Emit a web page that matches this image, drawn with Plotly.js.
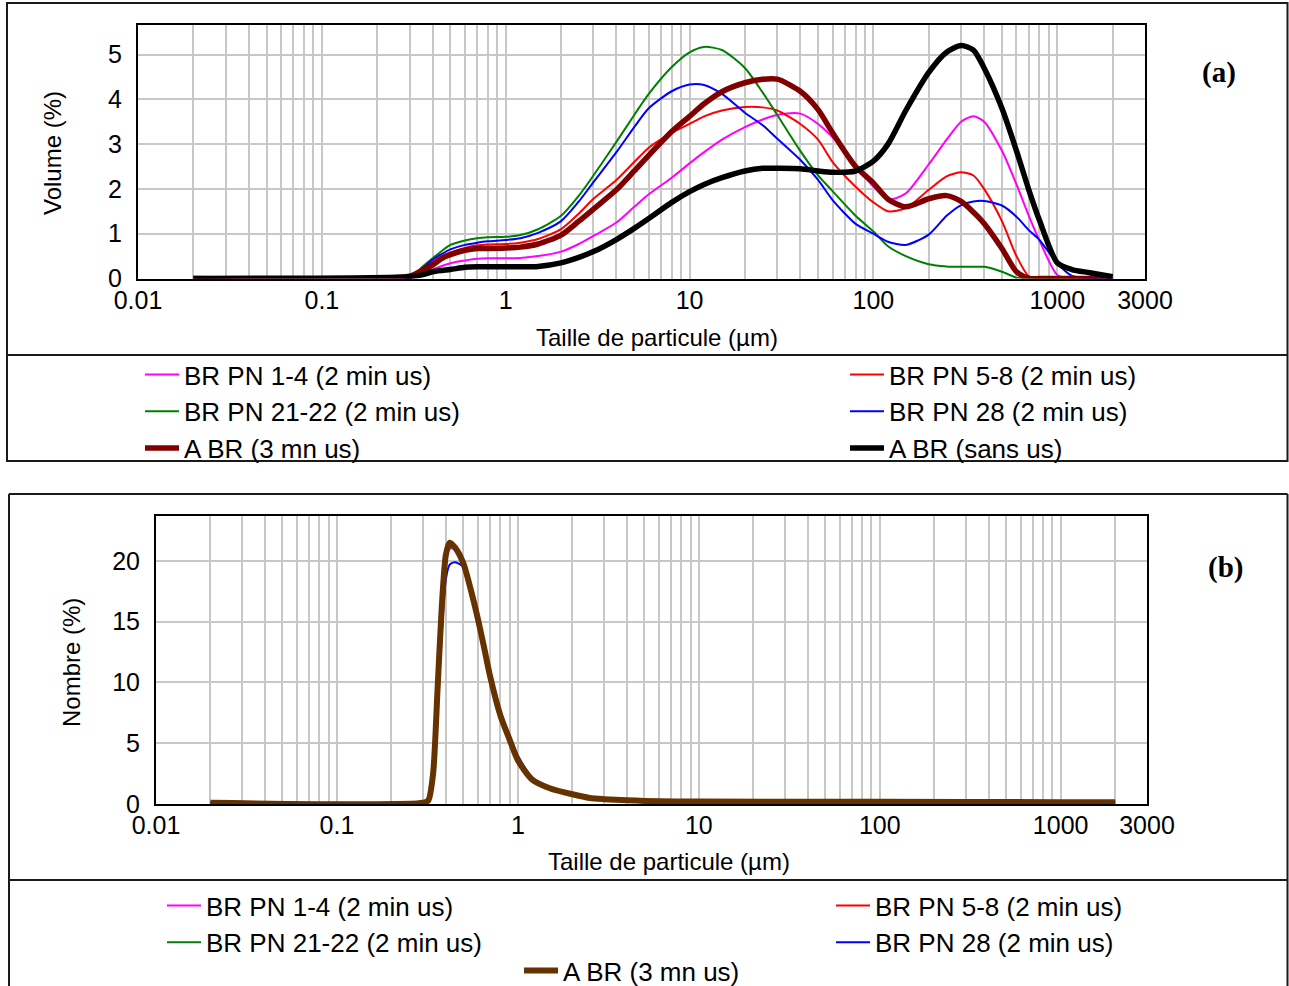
<!DOCTYPE html>
<html>
<head>
<meta charset="utf-8">
<script src="https://cdn.plot.ly/plotly-3.0.1.min.js"></script>
<style>
html,body{margin:0;padding:0;background:#fff;width:1289px;height:986px;overflow:hidden;}
#chart{position:absolute;left:0;top:0;width:1289px;height:986px;overflow:hidden;}
</style>
</head>
<body>
<div id="chart"></div>
<script>
// ---------- Panel (a): volume distribution ----------
const sizesA = [0.02, 0.3, 0.35, 0.4, 0.45, 0.5, 0.6, 0.7, 0.8, 1, 1.2, 1.5, 2, 2.5, 3, 4, 5, 6, 8, 10,
  12, 15, 20, 25, 30, 40, 50, 60, 80, 100, 120, 150, 200, 250, 300, 350, 400, 500, 600, 700,
  800, 1000, 1200, 1500, 2000];
const volPN1_4 = [0, 0, 0.08, 0.2, 0.28, 0.34, 0.4, 0.44, 0.45, 0.45, 0.46, 0.5, 0.6, 0.77, 0.95, 1.25, 1.6, 1.88, 2.25, 2.57,
  2.82, 3.1, 3.38, 3.55, 3.65, 3.68, 3.45, 3.15, 2.55, 2.05, 1.76, 1.9, 2.55, 3.1, 3.5, 3.62, 3.5, 2.85, 2.1, 1.4,
  0.85, 0.08, 0, 0, 0];
const volPN5_8 = [0, 0, 0.2, 0.37, 0.5, 0.58, 0.68, 0.74, 0.76, 0.77, 0.8, 0.88, 1.1, 1.45, 1.78, 2.2, 2.6, 2.92, 3.25, 3.45,
  3.62, 3.75, 3.83, 3.82, 3.75, 3.45, 3.1, 2.6, 2.05, 1.7, 1.5, 1.57, 1.98, 2.28, 2.37, 2.3, 2.0, 1.28, 0.5, 0.05,
  0, 0, 0, 0, 0];
const volPN21_22 = [0, 0, 0.25, 0.45, 0.62, 0.75, 0.85, 0.9, 0.92, 0.93, 0.97, 1.1, 1.4, 1.85, 2.3, 3.05, 3.65, 4.12, 4.72, 5.05,
  5.17, 5.1, 4.7, 4.15, 3.65, 2.85, 2.3, 1.95, 1.4, 1.05, 0.72, 0.5, 0.32, 0.27, 0.26, 0.26, 0.26, 0.15, 0.02, 0,
  0, 0, 0, 0, 0];
const volPN28 = [0, 0, 0.22, 0.42, 0.55, 0.65, 0.75, 0.8, 0.83, 0.86, 0.9, 1.02, 1.28, 1.72, 2.15, 2.82, 3.38, 3.8, 4.18, 4.33,
  4.32, 4.12, 3.7, 3.42, 3.12, 2.65, 2.2, 1.75, 1.22, 1.0, 0.82, 0.75, 0.98, 1.4, 1.64, 1.72, 1.73, 1.63, 1.38, 1.08,
  0.86, 0.34, 0.06, 0.01, 0];
const volABR3mn = [0, 0.05, 0.18, 0.3, 0.45, 0.53, 0.63, 0.67, 0.67, 0.68, 0.7, 0.77, 0.97, 1.28, 1.55, 1.98, 2.4, 2.75, 3.28, 3.62,
  3.9, 4.17, 4.37, 4.45, 4.45, 4.18, 3.77, 3.25, 2.5, 2.13, 1.77, 1.6, 1.78, 1.85, 1.72, 1.48, 1.23, 0.67, 0.15, 0,
  0, 0, 0, 0, 0];
const volABRsans = [0, 0.04, 0.08, 0.15, 0.18, 0.2, 0.25, 0.26, 0.26, 0.26, 0.26, 0.27, 0.35, 0.47, 0.6, 0.87, 1.12, 1.34, 1.7, 1.94,
  2.1, 2.25, 2.4, 2.46, 2.46, 2.45, 2.4, 2.37, 2.4, 2.62, 3.0, 3.75, 4.6, 5.05, 5.2, 5.1, 4.7, 3.8, 2.85, 1.98,
  1.3, 0.35, 0.2, 0.13, 0.04];

// ---------- Panel (b): number distribution ----------
const sizesB = [0.02, 0.3, 0.32, 0.34, 0.36, 0.38, 0.4, 0.42, 0.45, 0.5, 0.55, 0.6, 0.65, 0.7, 0.8, 0.9, 1, 1.2, 1.5, 2,
  2.5, 3, 4, 5, 10, 100, 1000, 2000];
const numPN1_4 = [0.1, 0.1, 0.2, 2.0, 8.5, 15.5, 20.0, 21.0, 21.0, 19.9, 17.9, 15.5, 13.1, 10.8, 7.5, 5.4, 3.8, 2.1, 1.35, 0.82,
  0.55, 0.4, 0.3, 0.25, 0.2, 0.18, 0.15, 0.15];
const numPN5_8 = [0.1, 0.1, 0.25, 2.2, 9.0, 15.8, 20.3, 21.2, 21.0, 19.8, 17.7, 15.3, 12.9, 10.6, 7.4, 5.3, 3.7, 2.05, 1.3, 0.8,
  0.52, 0.4, 0.3, 0.25, 0.2, 0.18, 0.15, 0.15];
const numPN21_22 = [0.1, 0.1, 0.3, 2.5, 9.5, 16.2, 20.6, 21.4, 21.0, 19.7, 17.6, 15.2, 12.8, 10.5, 7.3, 5.2, 3.6, 2.0, 1.25, 0.78,
  0.5, 0.38, 0.28, 0.22, 0.2, 0.18, 0.15, 0.15];
const numPN28 = [0.1, 0.1, 0.2, 1.8, 7.5, 14.0, 18.5, 19.7, 19.9, 19.5, 17.8, 15.5, 13.2, 11.0, 7.7, 5.6, 4.0, 2.2, 1.4, 0.9,
  0.6, 0.42, 0.3, 0.25, 0.2, 0.18, 0.15, 0.15];
const numABR3mn = [0.1, 0.1, 0.3, 2.5, 9.5, 16.3, 20.5, 21.5, 21.1, 19.8, 17.6, 15.3, 12.9, 10.6, 7.3, 5.3, 3.6, 2.0, 1.3, 0.8,
  0.5, 0.4, 0.3, 0.25, 0.2, 0.18, 0.15, 0.15];

// ---------- labels ----------
const xTickVals = [0.01, 0.1, 1, 10, 100, 1000, 3000];
const xTickText = ['0.01', '0.1', '1', '10', '100', '1000', '3000'];
const nameList = ['BR PN 1-4 (2 min us)', 'BR PN 5-8 (2 min us)', 'BR PN 21-22 (2 min us)',
  'BR PN 28 (2 min us)', 'A BR (3 mn us)', 'A BR (sans us)'];

// ---------- helpers ----------
const W = 1289, H = 986;
const fx = p => p / W;
const fy = p => 1 - p / H;
const FONT = 'Liberation Sans, Arial, sans-serif';
const GRID = '#c8c8c8';

const minorVals = [];
[0.01, 0.1, 1, 10, 100, 1000].forEach(d => {
  for (let k = 2; k <= 9; k++) { const v = k * d; if (v < 3000) minorVals.push(+v.toPrecision(3)); }
});

function line(x, y, name, color, width, xa, ya, leg) {
  return {
    type: 'scatter', mode: 'lines', x: x, y: y, name: name,
    xaxis: xa, yaxis: ya, legend: leg,
    line: { color: color, width: width, shape: 'spline', smoothing: 0.7 },
    hoverinfo: 'x+y+name'
  };
}

const traces = [
  line(sizesA, volPN1_4, nameList[0], '#ff00ff', 2, 'x', 'y', 'legend'),
  line(sizesA, volPN5_8, nameList[1], '#ff0000', 2, 'x', 'y', 'legend2'),
  line(sizesA, volPN21_22, nameList[2], '#008000', 2, 'x', 'y', 'legend'),
  line(sizesA, volPN28, nameList[3], '#0000ff', 2, 'x', 'y', 'legend2'),
  line(sizesA, volABR3mn, nameList[4], '#800000', 5.5, 'x', 'y', 'legend'),
  line(sizesA, volABRsans, nameList[5], '#000000', 5.5, 'x', 'y', 'legend2'),

  line(sizesB, numPN1_4, nameList[0], '#ff00ff', 2, 'x2', 'y2', 'legend3'),
  line(sizesB, numPN5_8, nameList[1], '#ff0000', 2, 'x2', 'y2', 'legend4'),
  line(sizesB, numPN21_22, nameList[2], '#008000', 2, 'x2', 'y2', 'legend3'),
  line(sizesB, numPN28, nameList[3], '#0000ff', 2, 'x2', 'y2', 'legend4'),
  line(sizesB, numABR3mn, nameList[4], '#663300', 6, 'x2', 'y2', 'legend5')
];

function xAxis(d0, d1, anchor) {
  return {
    domain: [fx(d0), fx(d1)], anchor: anchor, type: 'log',
    range: [-2, Math.log10(3000)],
    tickmode: 'array', tickvals: xTickVals, ticktext: xTickText,
    tickfont: { family: FONT, size: 25, color: '#000' },
    ticks: '', ticklabelstandoff: -2,
    showgrid: true, gridcolor: GRID, gridwidth: 2,
    minor: { tickmode: 'array', tickvals: minorVals, showgrid: true, gridcolor: GRID, gridwidth: 2, ticks: '' },
    showline: true, mirror: true, linecolor: '#000', linewidth: 2,
    zeroline: false, fixedrange: true
  };
}
function yAxis(top, bottom, maxV, dtick, anchor) {
  return {
    domain: [fy(bottom), fy(top)], anchor: anchor,
    range: [0, maxV], tickmode: 'linear', tick0: 0, dtick: dtick,
    tickfont: { family: FONT, size: 25, color: '#000' },
    ticks: '', ticklabelstandoff: 9,
    showgrid: true, gridcolor: GRID, gridwidth: 2,
    showline: true, mirror: true, linecolor: '#000', linewidth: 2,
    zeroline: false, fixedrange: true
  };
}
function legendAt(px, py) {
  return {
    x: fx(px), y: fy(py), xanchor: 'left', yanchor: 'top',
    bgcolor: 'rgba(0,0,0,0)', borderwidth: 0, itemwidth: 34,
    font: { family: FONT, size: 26, color: '#000' },
    traceorder: 'normal', orientation: 'v'
  };
}
function ann(text, px, py, size, extra) {
  return Object.assign({
    text: text, x: fx(px), y: fy(py), xref: 'paper', yref: 'paper',
    xanchor: 'center', yanchor: 'middle', showarrow: false,
    font: { family: FONT, size: size, color: '#000' }
  }, extra || {});
}
const BOX = { color: '#1a1a1a', width: 2 };
function seg(x0, y0, x1, y1) {
  return { type: 'line', xref: 'paper', yref: 'paper', x0: fx(x0), x1: fx(x1), y0: fy(y0), y1: fy(y1), line: BOX };
}

const layout = {
  width: W, height: H,
  margin: { l: 0, r: 0, t: 0, b: 0, autoexpand: false },
  paper_bgcolor: '#ffffff', plot_bgcolor: '#ffffff',
  xaxis: xAxis(138, 1145, 'y'),
  yaxis: yAxis(24.5, 278.5, 5.67, 1, 'x'),
  xaxis2: xAxis(156, 1147, 'y2'),
  yaxis2: yAxis(516, 804, 23.7, 5, 'x2'),
  legend: legendAt(140, 351),
  legend2: legendAt(845, 351),
  legend3: legendAt(162, 882),
  legend4: legendAt(831, 882),
  legend5: legendAt(519, 947),
  annotations: [
    ann('Taille de particule (µm)', 657, 338, 24),
    ann('Taille de particule (µm)', 669, 861, 24),
    ann('Volume (%)', 53, 153, 24, { textangle: -90 }),
    ann('Nombre (%)', 71, 663, 24, { textangle: -90 }),
    ann('<b>(a)</b>', 1219, 72, 29, { font: { family: 'Liberation Serif, DejaVu Serif, serif', size: 29, color: '#000' } }),
    ann('<b>(b)</b>', 1225, 567, 29, { font: { family: 'Liberation Serif, DejaVu Serif, serif', size: 29, color: '#000' } })
  ],
  shapes: [
    { type: 'rect', xref: 'paper', yref: 'paper', x0: fx(7), x1: fx(1287.5), y0: fy(461), y1: fy(3), line: BOX },
    seg(7, 355, 1287.5, 355),
    seg(9, 494, 1287.5, 494),
    seg(9, 494, 9, 986),
    seg(1287.5, 494, 1287.5, 986),
    seg(9, 880, 1287.5, 880)
  ],
  hovermode: 'closest'
};

Plotly.newPlot('chart', traces, layout, { displayModeBar: false, responsive: false });
</script>
</body>
</html>
